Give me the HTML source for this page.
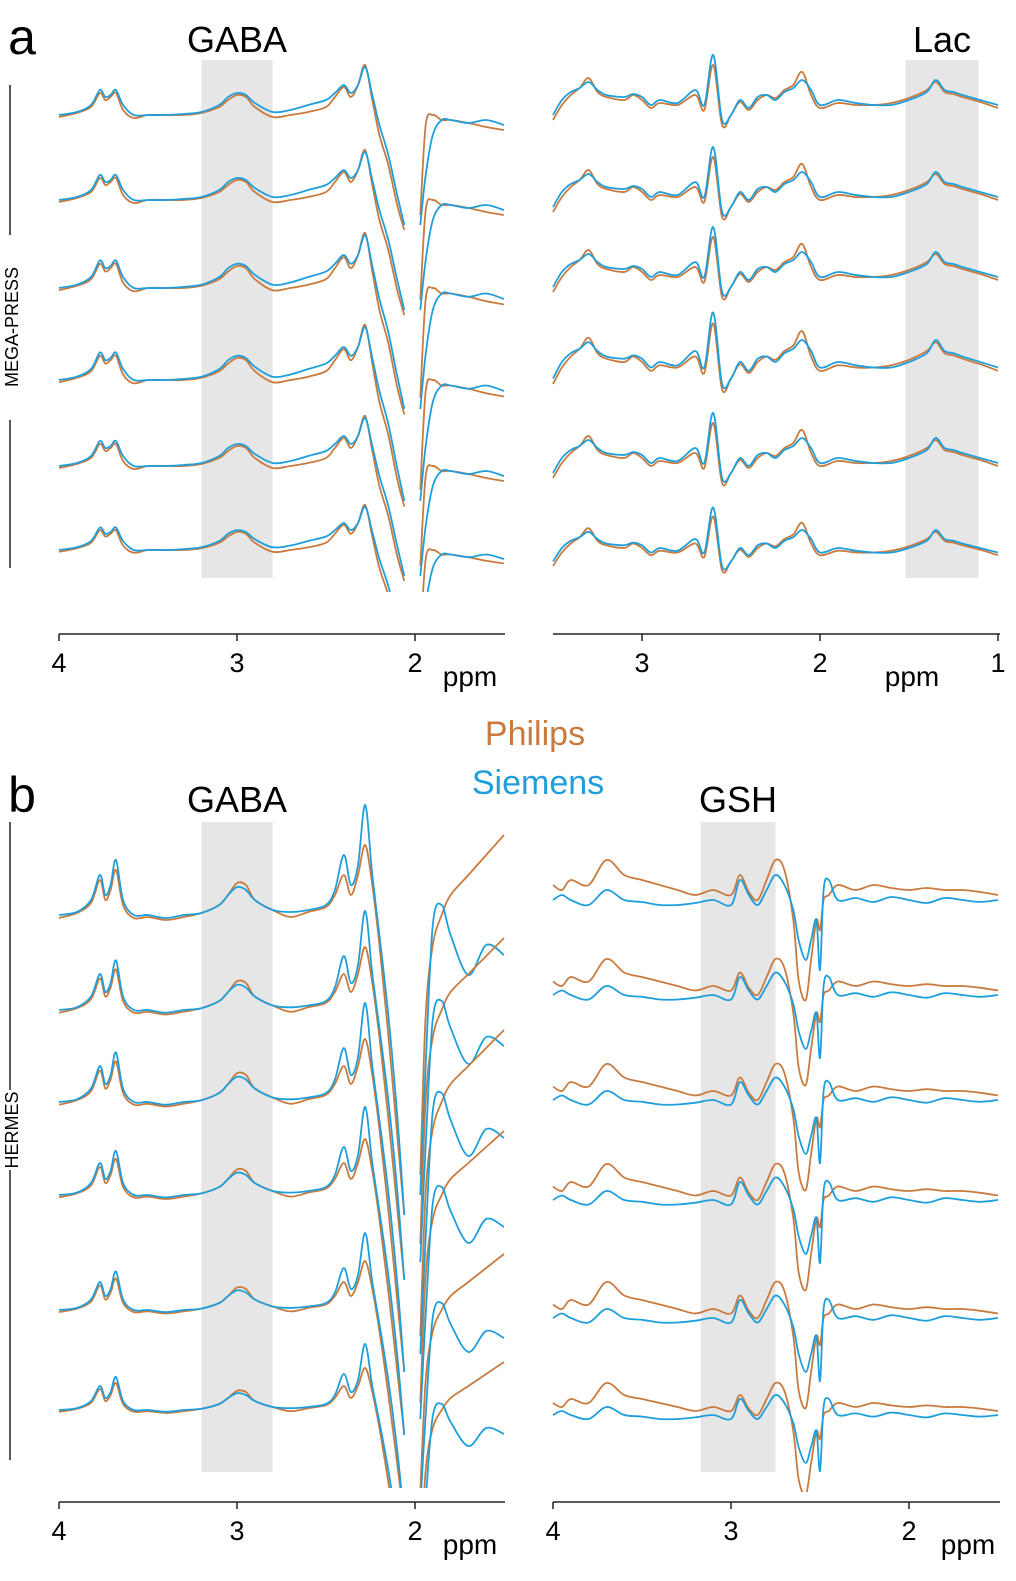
<!DOCTYPE html>
<html><head><meta charset="utf-8">
<style>
html,body{margin:0;padding:0;background:#fff;}
svg{display:block;font-family:"Liberation Sans","DejaVu Sans",sans-serif;}
</style></head>
<body>
<svg id="fig" width="1016" height="1581" viewBox="0 0 1016 1581"></svg>
<script>
// ---------- DATA ----------
const ppmAL = [4.0,3.9,3.82,3.77,3.74,3.71,3.68,3.64,3.58,3.5,3.4,3.3,3.2,3.1,3.05,3.0,2.95,2.9,2.8,2.7,2.6,2.5,2.45,2.4,2.36,2.32,2.28,2.24,2.2,2.15,2.1,2.06,2.03,1.97,1.94,1.9,1.85,1.8,1.7,1.6,1.5];
const sieAL = [0,3,10,25,18,20,25,10,0,0,0,1,3,10,18,22,20,12,3,5,10,15,22,30,22,30,48,20,-10,-40,-80,-110,null,-110,-60,-20,-5,-5,-8,-5,-10];
const phiAL = [-2,2,8,22,15,18,22,5,-3,0,0,0,2,8,15,20,18,8,-2,0,3,8,18,28,18,30,50,15,-20,-50,-90,-115,null,-100,-10,0,-5,-5,-8,-12,-15];
const baseAL = [115,200,288,380,466,550];
const scaleAL = [1.0,1.0,1.1,1.1,1.0,0.9];

const ppmAR = [3.5,3.45,3.4,3.35,3.3,3.25,3.2,3.1,3.05,3.0,2.95,2.9,2.8,2.7,2.65,2.6,2.55,2.5,2.45,2.4,2.35,2.3,2.25,2.2,2.15,2.1,2.05,2.0,1.9,1.8,1.7,1.6,1.5,1.4,1.35,1.3,1.25,1.2,1.1,1.0];
const sieAR = [-15,0,8,12,18,10,5,3,6,3,-5,0,-3,10,-5,45,-20,-15,0,-8,3,5,0,8,12,20,10,-5,0,-3,-5,-5,0,8,20,10,8,5,0,-5];
const phiAR = [-20,-5,5,12,22,8,3,0,5,0,-8,-3,-5,5,-10,35,-25,-15,-2,-10,0,5,2,10,15,28,5,-8,-3,-5,-5,-3,2,10,18,8,6,3,-2,-8];
const baseAR = [100,192,272,362,458,548];
const scaleAR = [1.0,1.0,1.0,1.1,1.0,0.9];

const ppmBL = ppmAL;
const sieBL = [0,3,15,40,20,30,55,15,0,0,-3,0,2,10,20,28,25,15,5,3,5,10,25,60,30,50,110,40,-20,-100,-200,-300,null,-280,-150,-10,10,-20,-60,-30,-40];
const phiBL = [-3,2,12,35,15,25,45,10,-3,-2,-5,-2,2,10,20,32,30,15,5,-2,3,8,20,40,20,40,70,30,-30,-120,-220,-300,null,-260,-100,-30,0,20,40,60,80];
const baseBL = [915,1010,1102,1195,1310,1410];
const scaleBL = [1.0,0.9,0.9,0.8,0.7,0.6];

const ppmBR = [4.0,3.95,3.9,3.8,3.7,3.6,3.5,3.4,3.3,3.2,3.1,3.0,2.95,2.9,2.85,2.8,2.75,2.7,2.65,2.62,2.58,2.55,2.52,2.5,2.48,2.45,2.4,2.3,2.2,2.1,2.0,1.9,1.8,1.7,1.6,1.5];
const sieBR = [0,5,0,-5,10,0,-2,-5,-5,-3,0,-5,20,5,-5,10,25,15,-10,-40,-60,-40,-20,-70,10,20,0,2,-2,3,0,-3,2,0,-2,0];
const phiBR = [15,10,20,15,40,25,20,15,10,5,10,5,25,8,0,20,40,30,-20,-80,-100,-60,-20,-30,0,5,15,10,15,12,10,12,10,10,8,5];
const baseBR = [900,995,1100,1200,1318,1415];
const scaleBR = [1.0,0.9,0.9,0.9,0.9,0.8];

const ticksAL = ["4","3","2"]; const tickPpmAL=[4,3,2];
const ticksAR = ["3","2","1"]; const tickPpmAR=[3,2,1];
const ticksBR = ["4","3","2"]; const tickPpmBR=[4,3,2];

// ---------- DRAW ----------
const NS="http://www.w3.org/2000/svg";
const svg=document.getElementById('fig');
const PHI="#c97b3f", SIE="#1e9fdc";
const defs=document.createElementNS(NS,'defs');svg.appendChild(defs);
function mk(tag,attrs,parent){const e=document.createElementNS(NS,tag);for(const k in attrs)e.setAttribute(k,attrs[k]);(parent||svg).appendChild(e);return e;}
function txt(x,y,s,size,fill,anchor,name){const t=mk('text',{x:x,y:y,'font-size':size,fill:fill||'#000','text-anchor':anchor||'middle'});t.textContent=s;


return t;}
function smooth(pts){
  if(pts.length<2)return '';
  let d='M'+pts[0][0].toFixed(1)+' '+pts[0][1].toFixed(1);
  for(let i=0;i<pts.length-1;i++){
    const p0=pts[i-1]||pts[i],p1=pts[i],p2=pts[i+1],p3=pts[i+2]||p2;
    const c1=[p1[0]+(p2[0]-p0[0])/6,p1[1]+(p2[1]-p0[1])/6];
    const c2=[p2[0]-(p3[0]-p1[0])/6,p2[1]-(p3[1]-p1[1])/6];
    d+=' C'+c1[0].toFixed(1)+' '+c1[1].toFixed(1)+' '+c2[0].toFixed(1)+' '+c2[1].toFixed(1)+' '+p2[0].toFixed(1)+' '+p2[1].toFixed(1);
  }
  return d;
}
let clipN=0;
function panel(cfg){
  const g=mk('g',{});
  
  
  const xs=p=>cfg.x0+(cfg.p0-p)*178;
  const cid='clip'+(clipN++);
  const cp=mk('clipPath',{id:cid},defs);
  mk('rect',{x:cfg.ax[0]-5,y:cfg.shy[0]-60,width:cfg.ax[1]-cfg.ax[0]+10,height:cfg.clipY-(cfg.shy[0]-60)},cp);
  const r=mk('rect',{x:xs(cfg.sh[0]),y:cfg.shy[0],width:xs(cfg.sh[1])-xs(cfg.sh[0]),height:cfg.shy[1]-cfg.shy[0],fill:'#e6e6e6'},g);
  
  
  const sg=mk('g',{'clip-path':'url(#'+cid+')'},g);
  for(let i=0;i<cfg.base.length;i++){
    [[cfg.phi,PHI,'philips'],[cfg.sie,SIE,'siemens']].forEach(([vals,col,nm])=>{
      let d='',seg=[];
      for(let j=0;j<=cfg.ppm.length;j++){
        if(j===cfg.ppm.length||vals[j]===null){d+=smooth(seg)+' ';seg=[];continue;}
        seg.push([xs(cfg.ppm[j]),cfg.base[i]-vals[j]*cfg.scale[i]]);
      }
      const p=mk('path',{d:d,fill:'none',stroke:col,'stroke-width':1.8,'stroke-linejoin':'round'},sg);
      
      
    });
  }
  const ax=mk('line',{x1:cfg.ax[0],x2:cfg.ax[1],y1:cfg.ay,y2:cfg.ay,stroke:'#222','stroke-width':1.5},g);
  
  
  cfg.tp.forEach((p,k)=>{
    const x=xs(p);
    const tk=mk('line',{x1:x,x2:x,y1:cfg.ay,y2:cfg.ay+7,stroke:'#222','stroke-width':1.5},g);
    
    
    g.appendChild(txt(x,cfg.ay+38,cfg.tl[k],27,'#000','middle',cfg.name+'-tick-label'));
  });
  g.appendChild(txt(cfg.ppmx,cfg.ay+52,'ppm',28,'#000','middle',cfg.name+'-x-axis-title'));
}

panel({name:'panel-a-left',x0:59,p0:4,ppm:ppmAL,sie:sieAL,phi:phiAL,base:baseAL,scale:scaleAL,sh:[3.2,2.8],shy:[60,578],ax:[59,505],ay:634,clipY:592,tp:tickPpmAL,tl:ticksAL,ppmx:470});
panel({name:'panel-a-right',x0:553,p0:3.5,ppm:ppmAR,sie:sieAR,phi:phiAR,base:baseAR,scale:scaleAR,sh:[1.52,1.11],shy:[60,578],ax:[553,1000],ay:634,clipY:600,tp:tickPpmAR,tl:ticksAR,ppmx:912});
panel({name:'panel-b-left',x0:59,p0:4,ppm:ppmBL,sie:sieBL,phi:phiBL,base:baseBL,scale:scaleBL,sh:[3.2,2.8],shy:[822,1472],ax:[59,505],ay:1502,clipY:1488,tp:tickPpmAL,tl:ticksAL,ppmx:470});
panel({name:'panel-b-right',x0:553,p0:4,ppm:ppmBR,sie:sieBR,phi:phiBR,base:baseBR,scale:scaleBR,sh:[3.17,2.75],shy:[822,1472],ax:[553,1000],ay:1502,clipY:1492,tp:tickPpmBR,tl:ticksBR,ppmx:968});

txt(22,54,'a',50,'#000','middle','panel-a-label');
txt(22,812,'b',50,'#000','middle','panel-b-label');
txt(237,52,'GABA',36,'#000','middle','gaba-label-a');
txt(942,52,'Lac',36,'#000','middle','lac-label');
txt(237,812,'GABA',36,'#000','middle','gaba-label-b');
txt(738,812,'GSH',36,'#000','middle','gsh-label');
txt(535,745,'Philips',34,PHI,'middle','legend-philips');
txt(538,794,'Siemens',34,SIE,'middle','legend-siemens');
[[85,235],[420,568],[822,1090],[1170,1460]].forEach(([a,b],i)=>{
  const l=mk('line',{x1:10,x2:10,y1:a,y2:b,stroke:'#222','stroke-width':1.5});
  
  
});
const t1=txt(0,0,'MEGA-PRESS',18,'#000','middle','mega-press-label');t1.setAttribute('transform','translate(18,327) rotate(-90)');
const t2=txt(0,0,'HERMES',18,'#000','middle','hermes-label');t2.setAttribute('transform','translate(18,1130) rotate(-90)');
</script>
</body></html>
